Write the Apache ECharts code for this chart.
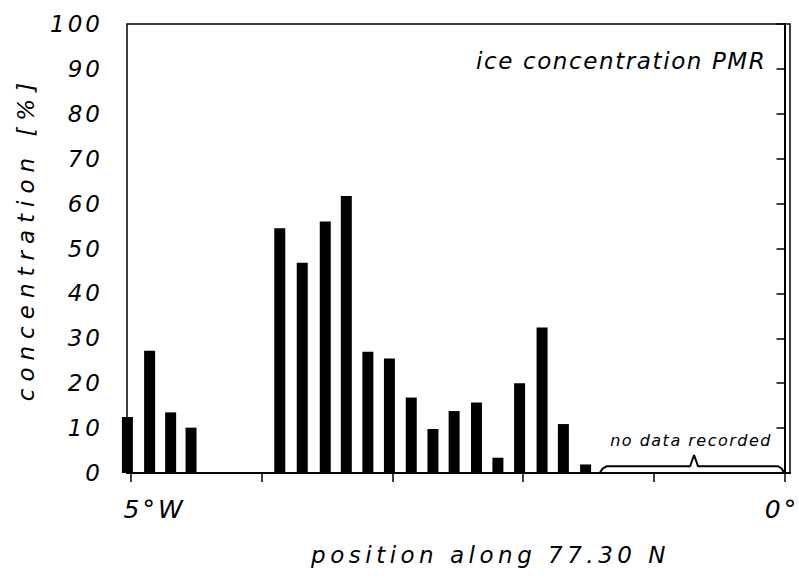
<!DOCTYPE html>
<html><head><meta charset="utf-8">
<script src="https://cdn.jsdelivr.net/npm/echarts@6/dist/echarts.min.js"></script>
<style>html,body{margin:0;padding:0;background:#fff}#c{width:799px;height:580px}</style>
</head><body><div id="c"></div>
<script>
// positions along 77.30 N in degrees longitude (negative = west)
const positions = [-5.028, -4.858, -4.697, -4.541, -3.862, -3.690, -3.514, -3.353, -3.188, -3.023,
                   -2.856, -2.690, -2.528, -2.357, -2.193, -2.027, -1.855, -1.692, -1.522];
// ice concentration [%]
const concentration = [12.5, 27.2, 13.5, 10.1, 54.5, 46.8, 56.0, 61.7, 27.0, 25.5,
                       16.8, 9.8, 13.8, 15.7, 3.4, 20.0, 32.4, 10.9, 1.9];
const xTickValues = [-5, -4, -3, -2, -1, 0];
const xLabelValues = [-5, 0];
const xLabelTexts = ['5°W', '0°'];
// brace marking the stretch without data (longitude, concentration)
const bracePath = [[-1.411, 0.1], [-1.392, 1.0], [-1.362, 1.5], [-0.722, 1.5], [-0.692, 4.0],
                   [-0.662, 1.5], [-0.050, 1.5], [-0.022, 1.0], [-0.004, 0.1]];
const bracePeakIndex = 4;
const noDataText = 'no data recorded';
const titleText = 'ice concentration PMR';
const xName = 'position along 77.30 N';
const yName = 'concentration [%]';

const FONT = 'DejaVu Sans';
const chart = echarts.init(document.getElementById('c'), null, {renderer: 'svg'});

const barData = positions.map((p, i) => [p, concentration[i]]);
const braceData = bracePath.map((p, i) => i === bracePeakIndex
  ? {value: p, label: {show: true, formatter: noDataText, position: 'top', distance: 7, offset: [-3, 0],
      color: '#000', fontFamily: FONT, fontStyle: 'italic', fontSize: 16}}
  : {value: p});

chart.setOption({
  animation: false,
  backgroundColor: '#fff',
  title: {
    text: titleText, left: 471, top: 44,
    textStyle: {fontFamily: FONT, fontStyle: 'italic', fontWeight: 'normal', fontSize: 23, color: '#000'}
  },
  grid: {left: 127, right: 9, top: 24, bottom: 107, show: true, borderColor: '#000', borderWidth: 1.5,
         outerBoundsMode: 'none', containLabel: false},
  xAxis: {
    type: 'value', min: -5.031, max: 0.042,
    name: xName, nameLocation: 'middle', nameGap: 70, nameMoveOverlap: false,
    nameTextStyle: {fontFamily: FONT, fontStyle: 'italic', fontSize: 23, color: '#000', padding: [0, 0, 0, 64]},
    axisLine: {show: true, onZero: false, lineStyle: {color: '#000', width: 2}},
    axisTick: {show: true, customValues: xTickValues, length: 9, inside: false, lineStyle: {color: '#000', width: 1.5}},
    axisLabel: {
      show: true, customValues: xLabelValues, margin: 24,
      formatter: v => (v === xLabelValues[0] ? '{a|' + xLabelTexts[0] + '}' : '{b|' + xLabelTexts[1] + '}'),
      rich: {
        a: {fontFamily: FONT, fontStyle: 'italic', fontSize: 25, color: '#000', padding: [0, 0, 0, 47]},
        b: {fontFamily: FONT, fontStyle: 'italic', fontSize: 25, color: '#000', padding: [0, 5, 0, 0]}
      }
    },
    splitLine: {show: false}
  },
  yAxis: {
    type: 'value', min: 0, max: 100, interval: 10,
    name: yName, nameLocation: 'middle', nameGap: 90, nameMoveOverlap: false,
    nameTextStyle: {fontFamily: FONT, fontStyle: 'italic', fontSize: 23, color: '#000', padding: [0, 0, 0, 20]},
    axisLine: {show: true, lineStyle: {color: '#000', width: 2}},
    axisTick: {show: true, length: 8, inside: false, lineStyle: {color: '#000', width: 1.5}},
    axisLabel: {margin: 24, fontFamily: FONT, fontStyle: 'italic', fontSize: 23, color: '#000'},
    splitLine: {show: false}
  },
  series: [
    {type: 'bar', data: barData, barWidth: 11, clip: false, itemStyle: {color: '#000'}},
    {type: 'line', data: braceData, clip: false, symbol: 'circle', symbolSize: 0, showSymbol: true,
     lineStyle: {color: '#000', width: 2}, itemStyle: {color: '#000'}}
  ]
});

const spacing = {};
spacing[titleText] = 1.6;
spacing[xName] = 4.5;
spacing[yName] = 7;
spacing[noDataText] = 1.5;
spacing[xLabelTexts[0]] = 3;
spacing[xLabelTexts[1]] = 3;
function applySpacing() {
  document.querySelectorAll('#c svg text').forEach(t => {
    const s = t.textContent;
    let ls = spacing[s];
    if (ls === undefined && /^\d+$/.test(s)) ls = 3;
    if (ls !== undefined) t.style.letterSpacing = ls + 'px';
  });
}
try { chart.getZr().flush(); } catch (e) {}
applySpacing();
chart.on('finished', applySpacing);
setTimeout(applySpacing, 50);
</script></body></html>
